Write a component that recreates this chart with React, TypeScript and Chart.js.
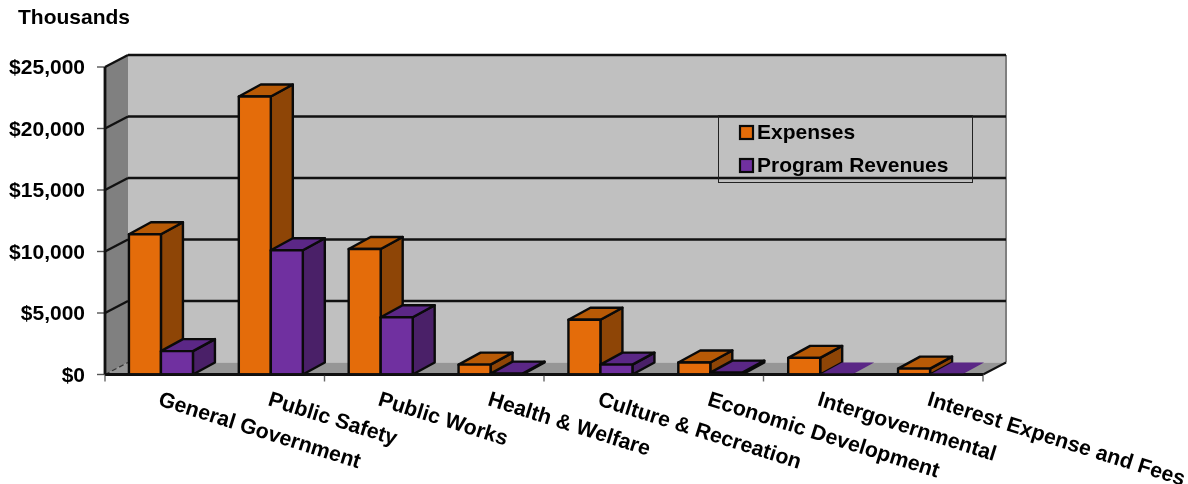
import React, { useEffect, useRef } from "react";
import { Chart, registerables } from "chart.js";

Chart.register(...registerables);

const categories = [
  "General Government",
  "Public Safety",
  "Public Works",
  "Health & Welfare",
  "Culture & Recreation",
  "Economic Development",
  "Intergovernmental",
  "Interest Expense and Fees",
];
const expenses = [11400, 22600, 10200, 800, 4450, 980, 1350, 480];
const programRevenues = [1900, 10100, 4650, 70, 800, 150, 0, 0];
const yTicks = [0, 5000, 10000, 15000, 20000, 25000];
const unitLabel = "Thousands";

const FONT = '"Liberation Sans", Arial, sans-serif';
const DX = 22;
const DY = 12;
const LIFT = 1.5;
const palette = [
  { front: "#E46C0A", top: "#B85A06", side: "#8E4506" },
  { front: "#7030A0", top: "#5B2786", side: "#4A2068" },
];

function poly(ctx: CanvasRenderingContext2D, pts: number[][], fill: string, stroke?: string, lw = 2.4) {
  ctx.beginPath();
  pts.forEach((p, i) => (i ? ctx.lineTo(p[0], p[1]) : ctx.moveTo(p[0], p[1])));
  ctx.closePath();
  ctx.fillStyle = fill;
  ctx.fill();
  if (stroke) {
    ctx.strokeStyle = stroke;
    ctx.lineWidth = lw;
    ctx.lineJoin = "round";
    ctx.stroke();
  }
}

function line(ctx: CanvasRenderingContext2D, x1: number, y1: number, x2: number, y2: number, color: string, lw: number) {
  ctx.beginPath();
  ctx.moveTo(x1, y1);
  ctx.lineTo(x2, y2);
  ctx.strokeStyle = color;
  ctx.lineWidth = lw;
  ctx.stroke();
}

const plot3d = {
  id: "plot3d",
  beforeDatasetsDraw(chart: any) {
    const ctx: CanvasRenderingContext2D = chart.ctx;
    const { x, y } = chart.scales;
    const L = chart.chartArea.left - 1;
    const R = chart.chartArea.right - 2;
    const bottom = y.getPixelForValue(0);
    const top = y.getPixelForValue(25000);
    const bx = DX + 1;

    ctx.save();
    ctx.save();
    ctx.translate(0, -LIFT);
    // back wall, floor, side wall
    poly(ctx, [[L + bx, top - DY], [R + bx, top - DY], [R + bx, bottom - DY], [L + bx, bottom - DY]], "#C0C0C0");
    poly(ctx, [[L, bottom], [L + bx, bottom - DY], [R + bx, bottom - DY], [R, bottom]], "#969696");
    poly(ctx, [[L, top], [L + bx, top - DY], [L + bx, bottom - DY], [L, bottom]], "#808080");
    poly(ctx, [[L, bottom], [L + bx, bottom - DY], [L + bx, bottom]], "#969696");

    line(ctx, R + bx, top - DY, R + bx, bottom - DY, "#808080", 2);
    yTicks.forEach((v) => {
      const p = y.getPixelForValue(v);
      if (v > 0) {
        line(ctx, L + bx, p - DY, R + bx, p - DY, "#111", 2.6);
        line(ctx, L, p, L + bx, p - DY, "#111", 2.4);
      } else {
        ctx.setLineDash([5, 3]);
        line(ctx, L, p, L + bx, p - DY, "#333", 1.2);
        ctx.setLineDash([]);
      }
      line(ctx, L - 8, p, L, p, "#555", 1.4);
    });
    line(ctx, L, top, L, bottom, "#111", 2.8);
    line(ctx, R, bottom, R + bx, bottom - DY, "#111", 2);
    line(ctx, L, bottom, R, bottom, "#111", 2.8);
    for (let i = 0; i <= 4; i++) {
      const tx = L + ((R - L) * i) / 4;
      line(ctx, tx, bottom, tx, bottom + 7, "#666", 1.4);
    }

    // bars, back to front
    categories.forEach((_, i) => {
      chart.data.datasets.forEach((_d: any, di: number) => {
        const el = chart.getDatasetMeta(di).data[i];
        const c = palette[di];
        const x0 = el.x - el.width / 2;
        const x1 = el.x + el.width / 2;
        const yt = el.y;
        const yb = el.base;
        const flat = yb - yt < 0.5;
        const stroke = flat ? undefined : "#0A0A0A";
        poly(ctx, [[x1, yt], [x1 + DX, yt - DY], [x1 + DX, yb - DY], [x1, yb]], c.side, stroke);
        poly(ctx, [[x0, yt], [x0 + DX, yt - DY], [x1 + DX, yt - DY], [x1, yt]], c.top, stroke);
        if (!flat) poly(ctx, [[x0, yt], [x1, yt], [x1, yb], [x0, yb]], c.front, stroke);
      });
    });
    line(ctx, L, bottom, R, bottom, "#111", 2.4);

    // category labels
    ctx.fillStyle = "#000";
    ctx.font = `bold 21.3px ${FONT}`;
    ctx.textAlign = "left";
    ctx.textBaseline = "middle";
    categories.forEach((name, i) => {
      ctx.save();
      ctx.translate(x.getPixelForValue(i) - 2, bottom + 25);
      ctx.rotate((17.5 * Math.PI) / 180);
      ctx.fillText(name, 0, 0);
      ctx.restore();
    });
    ctx.restore();

    // unit label
    ctx.fillStyle = "#000";
    ctx.font = `bold 21px ${FONT}`;
    ctx.textAlign = "left";
    ctx.textBaseline = "middle";
    ctx.fillText(unitLabel, 18, 18);

    // legend
    ctx.strokeStyle = "#222";
    ctx.lineWidth = 1;
    ctx.strokeRect(718.5, 115.5, 254, 67);
    chart.data.datasets.forEach((d: any, di: number) => {
      const cy = 132 + di * 33;
      ctx.fillStyle = palette[di].front;
      ctx.fillRect(740, cy - 6, 13, 13);
      ctx.strokeStyle = "#0A0A0A";
      ctx.lineWidth = 2.2;
      ctx.strokeRect(740, cy - 6, 13, 13);
      ctx.fillStyle = "#000";
      ctx.font = `bold 21px ${FONT}`;
      ctx.fillText(d.label, 757, cy + 1);
    });
    ctx.restore();
    return false;
  },
};

export default function App() {
  const ref = useRef<HTMLCanvasElement | null>(null);
  useEffect(() => {
    const chart = new Chart(ref.current as HTMLCanvasElement, {
      type: "bar",
      data: {
        labels: categories,
        datasets: [
          { label: "Expenses", data: expenses, backgroundColor: palette[0].front },
          { label: "Program Revenues", data: programRevenues, backgroundColor: palette[1].front },
        ],
      },
      options: {
        responsive: false,
        animation: false,
        devicePixelRatio: 1,
        layout: { padding: { top: 68.5, right: 203, left: 0, bottom: 0 } },
        datasets: { bar: { barPercentage: 1, categoryPercentage: 0.5825 } },
        plugins: { legend: { display: false }, tooltip: { enabled: false } },
        scales: {
          x: {
            grid: { display: false },
            border: { display: false },
            ticks: { display: false },
            afterFit: (s: any) => { s.height = 108; },
          },
          y: {
            min: 0,
            max: 25000,
            grid: { display: false },
            border: { display: false },
            afterFit: (s: any) => { s.width = 106; },
            afterBuildTicks: (s: any) => { s.ticks = yTicks.map((value) => ({ value })); },
            ticks: {
              padding: 13,
              color: "#000",
              font: { family: FONT, size: 21, weight: "bold" },
              callback: (v: any) => "$" + Number(v).toLocaleString("en-US"),
            },
          },
        },
      } as any,
      plugins: [plot3d as any],
    });
    return () => chart.destroy();
  }, []);
  return (
    <div style={{ position: "absolute", left: 0, top: 0, width: 1188, height: 484, background: "#fff" }}>
      <canvas ref={ref} width={1188} height={484} style={{ display: "block" }} />
    </div>
  );
}
